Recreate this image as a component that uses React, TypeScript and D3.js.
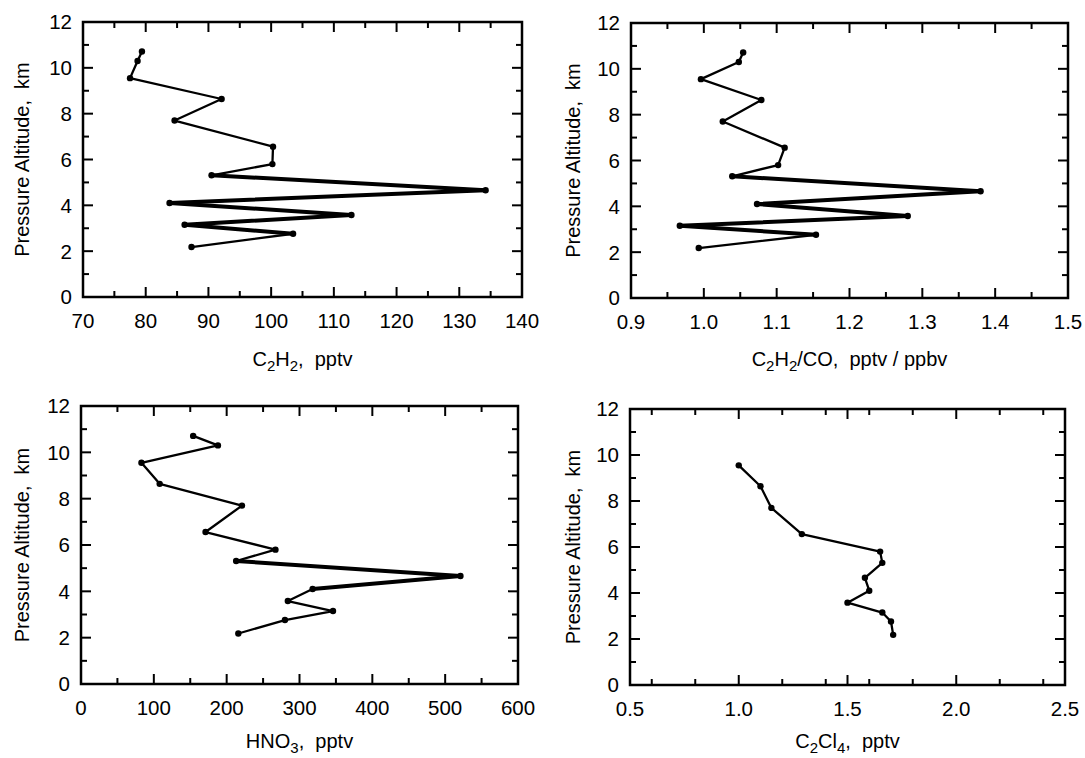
import React from 'react';
import * as d3 from 'd3';

// altitude of each sample, km (shared by all four profiles)
const altitude = [10.71, 10.3, 9.55, 8.64, 7.7, 6.56, 5.8, 5.31, 4.66, 4.1, 3.58, 3.15, 2.76, 2.18];

// mixing ratios
const c2h2 = [79.4, 78.7, 77.5, 92.1, 84.6, 100.3, 100.2, 90.5, 134.2, 83.8, 112.8, 86.2, 103.5, 87.3];
const c2h2co = [1.054, 1.048, 0.996, 1.079, 1.026, 1.111, 1.102, 1.039, 1.38, 1.073, 1.28, 0.967, 1.154, 0.993];
const hno3 = [154, 188, 83, 108, 221, 171, 267, 213, 521, 318, 284, 346, 280, 216];
const c2cl4 = [null, null, 1.0, 1.1, 1.15, 1.29, 1.65, 1.66, 1.58, 1.6, 1.5, 1.66, 1.7, 1.71];

const altDomain = [0, 12];
const yLabel = 'Pressure Altitude,\u00a0 km';

type Panel = {
  values: (number | null)[];
  domain: [number, number];
  major: number;
  minor: number;
  fmt: string;
  frame: { left: number; right: number; top: number; bottom: number };
  titleY: number;
  ylabX: number;
  title: React.ReactNode;
  heavy: [number, number] | null; // altitude band drawn with a heavier pen
};

const sub = (t: string) => (
  <tspan fontSize={15} dy={5}>
    {t}
  </tspan>
);

const panels: Panel[] = [
  {
    values: c2h2,
    domain: [70, 140],
    major: 7,
    minor: 14,
    fmt: 'd',
    frame: { left: 83, right: 522, top: 22, bottom: 297 },
    titleY: 366,
    ylabX: 29,
    title: (
      <>
        C{sub('2')}
        <tspan dy={-5}>H</tspan>
        {sub('2')}
        <tspan dy={-5}>{',\u00a0 pptv'}</tspan>
      </>
    ),
    heavy: [2.7, 5.35],
  },
  {
    values: c2h2co,
    domain: [0.9, 1.5],
    major: 6,
    minor: 12,
    fmt: '.1f',
    frame: { left: 631, right: 1068, top: 23, bottom: 298 },
    titleY: 366,
    ylabX: 580,
    title: (
      <>
        C{sub('2')}
        <tspan dy={-5}>H</tspan>
        {sub('2')}
        <tspan dy={-5}>{'/CO,\u00a0 pptv / ppbv'}</tspan>
      </>
    ),
    heavy: [2.7, 5.35],
  },
  {
    values: hno3,
    domain: [0, 600],
    major: 6,
    minor: 12,
    fmt: 'd',
    frame: { left: 81, right: 518, top: 406, bottom: 684 },
    titleY: 748,
    ylabX: 29,
    title: (
      <>
        HNO{sub('3')}
        <tspan dy={-5}>{',\u00a0 pptv'}</tspan>
      </>
    ),
    heavy: [4.0, 5.35],
  },
  {
    values: c2cl4,
    domain: [0.5, 2.5],
    major: 4,
    minor: 8,
    fmt: '.1f',
    frame: { left: 630, right: 1065, top: 409, bottom: 685 },
    titleY: 748,
    ylabX: 580,
    title: (
      <>
        C{sub('2')}
        <tspan dy={-5}>Cl</tspan>
        {sub('4')}
        <tspan dy={-5}>{',\u00a0 pptv'}</tspan>
      </>
    ),
    heavy: null,
  },
];

const font = 'Arial, "Liberation Sans", Helvetica, sans-serif';

const ProfilePanel = ({ p }: { p: Panel }) => {
  const { left, right, top, bottom } = p.frame;
  const x = d3.scaleLinear().domain(p.domain).range([left, right]);
  const y = d3.scaleLinear().domain(altDomain).range([bottom, top]);
  const fmt = d3.format(p.fmt);

  const pts = altitude
    .map((a, i) => ({ a, v: p.values[i] }))
    .filter((d) => d.v != null) as { a: number; v: number }[];

  const line = d3
    .line<{ a: number; v: number }>()
    .x((d) => x(d.v))
    .y((d) => y(d.a));

  const segs = pts.slice(1).map((d, i) => [pts[i], d]);
  const isHeavy = (s: { a: number }[]) =>
    p.heavy != null && s.every((d) => d.a >= p.heavy![0] && d.a <= p.heavy![1]);

  const xMajor = x.ticks(p.major);
  const xMinor = x.ticks(p.minor).filter((t) => !xMajor.some((m) => Math.abs(m - t) < 1e-9));
  const yMajor = y.ticks(6);
  const yMinor = y.ticks(12).filter((t) => !yMajor.includes(t));
  const LM = 10;
  const Lm = 6;

  return (
    <g fontFamily={font} fill="#000">
      {/* inward ticks on all four sides */}
      <g stroke="#000" strokeWidth={2}>
        {xMajor.map((t) => (
          <g key={'xM' + t}>
            <line x1={x(t)} x2={x(t)} y1={bottom} y2={bottom - LM} />
            <line x1={x(t)} x2={x(t)} y1={top} y2={top + LM} />
          </g>
        ))}
        {xMinor.map((t) => (
          <g key={'xm' + t}>
            <line x1={x(t)} x2={x(t)} y1={bottom} y2={bottom - Lm} />
            <line x1={x(t)} x2={x(t)} y1={top} y2={top + Lm} />
          </g>
        ))}
        {yMajor.map((t) => (
          <g key={'yM' + t}>
            <line x1={left} x2={left + LM} y1={y(t)} y2={y(t)} />
            <line x1={right} x2={right - LM} y1={y(t)} y2={y(t)} />
          </g>
        ))}
        {yMinor.map((t) => (
          <g key={'ym' + t}>
            <line x1={left} x2={left + Lm} y1={y(t)} y2={y(t)} />
            <line x1={right} x2={right - Lm} y1={y(t)} y2={y(t)} />
          </g>
        ))}
      </g>
      <rect
        x={left}
        y={top}
        width={right - left}
        height={bottom - top}
        fill="none"
        stroke="#000"
        strokeWidth={2.5}
      />

      {/* tick labels */}
      {xMajor.map((t) => (
        <text key={'xl' + t} x={x(t)} y={bottom + 31} fontSize={20.5} textAnchor="middle">
          {fmt(t)}
        </text>
      ))}
      {yMajor.map((t) => (
        <text key={'yl' + t} x={left - 11} y={y(t)} dy="0.36em" fontSize={20.5} textAnchor="end">
          {t}
        </text>
      ))}

      {/* axis titles */}
      <text x={(left + right) / 2} y={p.titleY} fontSize={20} textAnchor="middle">
        {p.title}
      </text>
      <text
        transform={`translate(${p.ylabX},${(top + bottom) / 2}) rotate(-90)`}
        fontSize={20}
        textAnchor="middle"
      >
        {yLabel}
      </text>

      {/* profile */}
      <path d={line(pts) ?? ''} fill="none" stroke="#000" strokeWidth={2.3} strokeLinejoin="round" />
      {segs.filter(isHeavy).map((s, i) => (
        <path
          key={'h' + i}
          d={line(s) ?? ''}
          fill="none"
          stroke="#000"
          strokeWidth={4}
          strokeLinecap="round"
        />
      ))}
      {pts.map((d, i) => (
        <circle key={'c' + i} cx={x(d.v)} cy={y(d.a)} r={3.2} fill="#000" />
      ))}
    </g>
  );
};

export default function App() {
  return (
    <svg
      width={1085}
      height={758}
      style={{ position: 'absolute', left: 0, top: 0, background: '#fff' }}
    >
      <rect width={1085} height={758} fill="#fff" />
      {panels.map((p, i) => (
        <ProfilePanel key={i} p={p} />
      ))}
    </svg>
  );
}
